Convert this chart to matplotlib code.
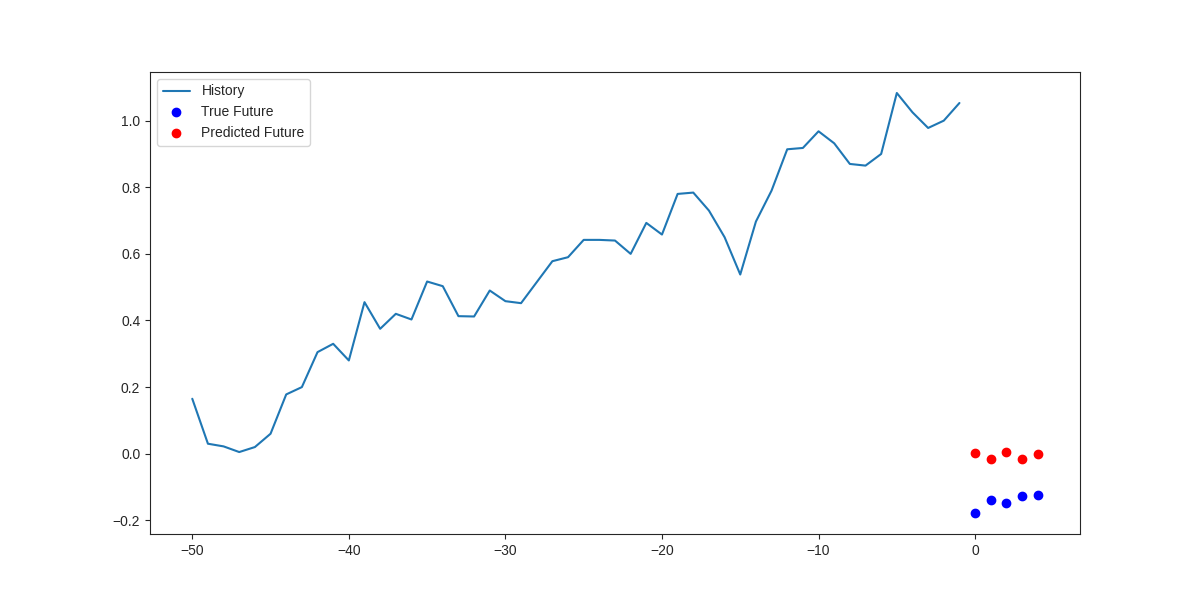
import numpy as np
import matplotlib
matplotlib.use('Agg')
import matplotlib.pyplot as plt
import seaborn as sns

sns.set_style('ticks')
plt.rcParams['font.family'] = ['Liberation Sans', 'DejaVu Sans']

# history values, steps -50 .. -1
history = [0.165, 0.030, 0.022, 0.005, 0.020, 0.060, 0.178, 0.200, 0.305, 0.330,
           0.280, 0.455, 0.375, 0.420, 0.403, 0.517, 0.503, 0.413, 0.412, 0.490,
           0.458, 0.452, 0.515, 0.578, 0.590, 0.642, 0.642, 0.640, 0.600, 0.693,
           0.658, 0.780, 0.784, 0.730, 0.650, 0.538, 0.697, 0.790, 0.914, 0.918,
           0.968, 0.932, 0.870, 0.865, 0.900, 1.083, 1.025, 0.978, 1.000, 1.053]
true_future = [-0.178, -0.138, -0.148, -0.128, -0.125]
predicted_future = [0.003, -0.015, 0.005, -0.015, 0.000]

hist_steps = np.arange(-len(history), 0)
future_steps = np.arange(len(true_future))

fig = plt.figure(figsize=(12, 6), dpi=100)
plt.plot(hist_steps, history, label='History')
plt.plot(future_steps, true_future, 'bo', label='True Future')
plt.plot(future_steps, predicted_future, 'ro', label='Predicted Future')
plt.legend(loc='upper left')

plt.savefig('out.png')
